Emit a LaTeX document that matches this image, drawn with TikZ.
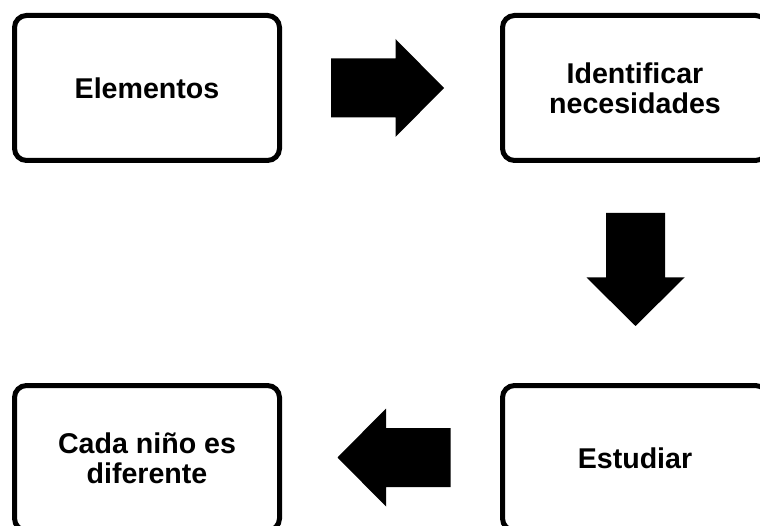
\documentclass[tikz,border=0pt]{standalone}
\usepackage{fontspec}
\setmainfont{Liberation Sans}
\begin{document}
\begin{tikzpicture}[x=1pt,y=-1pt,
  stagebox/.style={draw=black, line width=5pt, rounded corners=12pt, rectangle,
    minimum width=265pt, minimum height=145pt, align=center, inner sep=0pt,
    font=\fontsize{28.6}{30}\selectfont\bfseries},
  blockarrow/.pic={\fill[black] (-56.5,-29.5) -- (8,-29.5) -- (8,-49) -- (56.5,0) -- (8,49) -- (8,29.5) -- (-56.5,29.5) -- cycle;}
]
\useasboundingbox (0,0) rectangle (760,526);
\clip (0,0) rectangle (760,526);
\fill[white] (0,0) rectangle (760,526);
\node[stagebox] (elem) at (147,88) {Elementos};
\node[stagebox] (ident) at (635,88) {Identificar\\necesidades};
\node[stagebox] (estud) at (635,458) {Estudiar};
\node[stagebox] (cada) at (147,458) {Cada niño es\\diferente};
\pic at (387.5,88) {blockarrow};
\pic[rotate=-90] at (635.5,269.5) {blockarrow};
\pic[rotate=180] at (394,457.5) {blockarrow};
\end{tikzpicture}
\end{document}
